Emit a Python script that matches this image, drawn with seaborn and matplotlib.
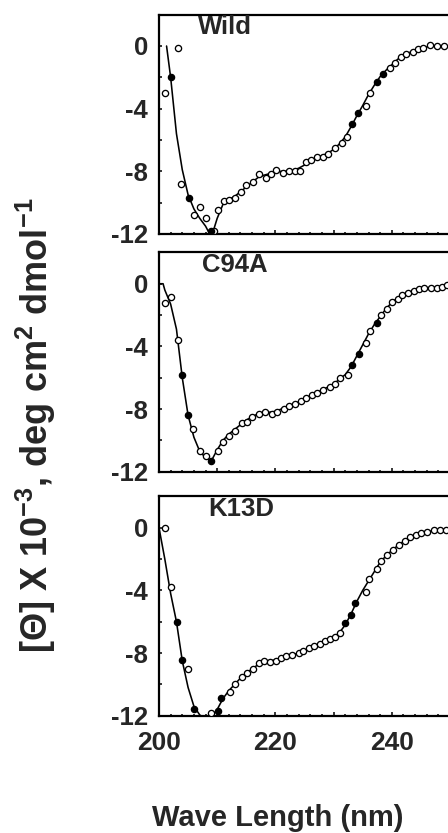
import matplotlib
matplotlib.use("Agg")
import matplotlib.pyplot as plt
import seaborn as sns
from matplotlib.ticker import MultipleLocator, FuncFormatter

# ---- data (wavelength in nm, [theta] x 1e-3) ----
panel_names = ["Wild", "C94A", "K13D"]

# Wild: measured points (open / dark-looking ones) and fitted curve
wild_x = [201.1, 203.3, 203.7, 206.1, 207.1, 208.0, 209.5, 210.2, 211.1, 212.1, 213.1, 214.1,
          214.9, 216.1, 217.2, 218.4, 219.3, 220.1, 221.3, 222.4, 223.4, 224.3, 225.2, 226.1,
          227.2, 228.2, 229.1, 230.2, 231.4, 232.3, 235.6, 236.3, 239.7, 240.5, 241.5, 242.5,
          243.6, 244.5, 245.4, 246.6, 247.7, 248.9]
wild_y = [-3.0, -0.1, -8.8, -10.8, -10.3, -11.0, -11.8, -10.5, -9.9, -9.8, -9.7, -9.3,
          -8.9, -8.7, -8.2, -8.4, -8.2, -7.9, -8.1, -8.0, -8.0, -8.0, -7.4, -7.3,
          -7.1, -7.1, -6.9, -6.5, -6.2, -5.8, -3.8, -3.0, -1.4, -1.07, -0.68, -0.53,
          -0.36, -0.2, -0.1, 0.06, 0.0, 0.0]
wild_fill_x = [202.0, 205.1, 208.9, 233.2, 234.2, 237.4, 238.5]
wild_fill_y = [-2.0, -9.7, -11.8, -5.0, -4.3, -2.3, -1.8]
wild_fit_x = [201.3, 202, 203, 204, 205, 206, 207, 208, 209, 210, 211, 212, 213, 214, 215,
              216, 217, 218, 219, 220, 221, 222, 223, 224, 225, 226, 227, 228, 229, 230,
              231, 232, 233, 234, 235, 236, 237, 238, 239, 240, 241, 242, 243, 244, 245,
              246, 247, 248, 249, 250]
wild_fit_y = [0.0, -2.0, -5.6, -7.9, -9.5, -10.4, -11.0, -11.5, -12.2, -11.0, -10.1, -9.8,
              -9.6, -9.3, -9.0, -8.7, -8.4, -8.25, -8.15, -8.05, -8.0, -8.0, -7.95, -7.8,
              -7.6, -7.35, -7.15, -7.0, -6.85, -6.6, -6.25, -5.8, -5.15, -4.45, -3.8, -3.1,
              -2.5, -1.95, -1.55, -1.2, -0.85, -0.6, -0.42, -0.28, -0.15, -0.06, 0.0, 0.0,
              0.0, 0.0]

# C94A
c94a_x = [201.0, 202.1, 203.3, 205.9, 207.0, 208.0, 210.2, 211.0, 212.0, 213.0, 214.2, 215.1,
          216.0, 217.1, 218.2, 219.4, 220.2, 221.4, 222.4, 223.4, 224.4, 225.2, 226.3, 227.1,
          228.2, 229.3, 230.3, 231.1, 232.4, 235.5, 236.2, 238.2, 239.1, 240.1, 241.0, 241.8,
          242.8, 243.8, 244.7, 245.6, 246.7, 247.7, 248.7, 249.5]
c94a_y = [-1.2, -0.86, -3.6, -9.3, -10.7, -11.0, -10.7, -10.1, -9.7, -9.4, -8.9, -8.8,
          -8.5, -8.3, -8.2, -8.3, -8.2, -8.0, -7.8, -7.7, -7.5, -7.3, -7.1, -6.96,
          -6.8, -6.6, -6.4, -6.0, -5.8, -3.8, -3.0, -1.97, -1.6, -1.16, -1.0, -0.75,
          -0.6, -0.47, -0.34, -0.28, -0.26, -0.28, -0.2, -0.1]
c94a_fill_x = [203.9, 205.0, 209.0, 233.2, 234.3, 237.5]
c94a_fill_y = [-5.8, -8.4, -11.3, -5.2, -4.5, -2.5]
c94a_fit_x = [200, 200.7, 201, 202, 203, 204, 205, 206, 207, 208, 209, 210, 211, 212, 213,
              214, 215, 216, 217, 218, 219, 220, 221, 222, 223, 224, 225, 226, 227, 228,
              229, 230, 231, 232, 233, 234, 235, 236, 237, 238, 239, 240, 241, 242, 243,
              244, 245, 246, 247, 248, 249, 250]
c94a_fit_y = [0.0, 0.0, -0.4, -1.3, -2.9, -6.0, -8.4, -9.8, -10.7, -11.1, -11.3, -10.6,
              -10.0, -9.6, -9.3, -9.0, -8.7, -8.5, -8.3, -8.2, -8.2, -8.15, -8.0, -7.85,
              -7.7, -7.55, -7.35, -7.15, -6.97, -6.8, -6.6, -6.4, -6.1, -5.8, -5.3, -4.6,
              -3.9, -3.2, -2.6, -2.1, -1.6, -1.2, -0.9, -0.7, -0.55, -0.42, -0.32, -0.26,
              -0.24, -0.23, -0.2, -0.15]

# K13D
k13d_x = [201.0, 202.0, 205.0, 208.9, 212.2, 213.0, 214.2, 215.1, 216.2, 217.1, 218.0, 219.1,
          220.1, 221.0, 221.8, 222.9, 224.0, 224.8, 225.7, 226.7, 227.6, 228.6, 229.4, 230.3,
          231.1, 235.5, 236.1, 237.5, 238.2, 239.2, 240.2, 241.2, 242.2, 243.2, 244.2, 245.1,
          246.1, 247.2, 248.2, 249.3]
k13d_y = [0.0, -3.77, -9.0, -11.85, -10.5, -10.0, -9.5, -9.3, -9.0, -8.66, -8.5, -8.6,
          -8.5, -8.3, -8.2, -8.1, -8.0, -7.9, -7.7, -7.55, -7.4, -7.2, -7.1, -6.96,
          -6.7, -4.1, -3.3, -2.66, -2.1, -1.74, -1.43, -1.1, -0.83, -0.62, -0.47, -0.36,
          -0.26, -0.15, -0.15, -0.15]
k13d_fill_x = [203.1, 203.9, 206.0, 210.2, 210.7, 232.0, 233.0, 233.7]
k13d_fill_y = [-6.0, -8.45, -11.6, -11.7, -10.9, -6.1, -5.6, -4.8]
k13d_fit_x = [200, 201, 202, 203, 204, 205, 206, 207, 208, 209, 210, 211, 212, 213, 214,
              215, 216, 217, 218, 219, 220, 221, 222, 223, 224, 225, 226, 227, 228, 229,
              230, 231, 232, 233, 234, 235, 236, 237, 238, 239, 240, 241, 242, 243, 244,
              245, 246, 247, 248, 249, 250]
k13d_fit_y = [0.0, -2.0, -4.2, -6.0, -8.5, -10.2, -11.4, -11.95, -12.2, -12.1, -11.6, -10.9,
              -10.4, -10.0, -9.6, -9.3, -9.0, -8.75, -8.6, -8.5, -8.45, -8.3, -8.2, -8.1,
              -8.0, -7.85, -7.7, -7.5, -7.3, -7.15, -7.0, -6.7, -6.2, -5.5, -4.7, -4.0,
              -3.4, -2.8, -2.2, -1.8, -1.45, -1.15, -0.88, -0.66, -0.5, -0.38, -0.27, -0.2,
              -0.15, -0.12, -0.1]

panels = [
    (wild_x, wild_y, wild_fill_x, wild_fill_y, wild_fit_x, wild_fit_y),
    (c94a_x, c94a_y, c94a_fill_x, c94a_fill_y, c94a_fit_x, c94a_fit_y),
    (k13d_x, k13d_y, k13d_fill_x, k13d_fill_y, k13d_fit_x, k13d_fit_y),
]
title_x = [0.134, 0.148, 0.168]

sns.set_style("ticks")
plt.rcParams["font.family"] = ["Liberation Sans", "DejaVu Sans"]
plt.rcParams["font.weight"] = "bold"
plt.rcParams["mathtext.fontset"] = "custom"
plt.rcParams["mathtext.rm"] = "Liberation Sans:bold"
plt.rcParams["mathtext.bf"] = "Liberation Sans:bold"
plt.rcParams["mathtext.default"] = "bf"

fig = plt.figure(figsize=(4.48, 8.33), dpi=100)

bottoms = [0.7191, 0.4337, 0.1408]
for i, (px, py, fx, fy, lx, ly) in enumerate(panels):
    ax = fig.add_axes([0.3549, bottoms[i], 0.6496, 0.2633])
    sns.lineplot(x=lx, y=ly, ax=ax, color="black", linewidth=1.15,
                 sort=False, estimator=None, zorder=2)
    sns.scatterplot(x=px, y=py, ax=ax, marker="o", s=20, facecolor="white",
                    edgecolor="black", linewidth=0.95, zorder=3)
    sns.scatterplot(x=fx, y=fy, ax=ax, marker="o", s=20, facecolor="black",
                    edgecolor="black", linewidth=0.95, zorder=3)
    ax.set_xlim(200, 250)
    ax.set_ylim(-12, 2)
    ax.xaxis.set_major_locator(MultipleLocator(10))
    ax.xaxis.set_minor_locator(MultipleLocator(2))
    ax.yaxis.set_major_locator(MultipleLocator(4))
    ax.yaxis.set_minor_locator(MultipleLocator(2))
    ax.tick_params(axis="both", which="both", direction="in", width=1.1, color="black")
    ax.tick_params(axis="x", which="major", length=3.2, pad=11, labelsize=19)
    ax.tick_params(axis="x", which="minor", length=1.6)
    ax.tick_params(axis="y", which="both", length=2.4, pad=8, labelsize=18.5)
    ax.yaxis.set_major_formatter(FuncFormatter(lambda v, p: "%d" % v))
    if i == 2:
        ax.xaxis.set_major_formatter(
            FuncFormatter(lambda v, p: "%d" % v if int(round(v)) % 20 == 0 else ""))
    else:
        ax.set_xticklabels([])
    for sp in ax.spines.values():
        sp.set_linewidth(1.6)
        sp.set_color("black")
    ax.set_xlabel("")
    ax.set_ylabel("")
    ax.text(title_x[i], 0.944, panel_names[i], transform=ax.transAxes,
            ha="left", va="center", fontsize=18.5, fontweight="bold")

fig.text(0.08, 0.49, "[\u0398] X 10$^{-3}$, deg cm$^{2}$ dmol$^{-1}$",
         rotation=90, ha="center", va="center", fontsize=26, fontweight="bold")
fig.text(0.62, 0.0186, "Wave Length (nm)", ha="center", va="center",
         fontsize=21, fontweight="bold")

fig.savefig("out.png", dpi=100)
